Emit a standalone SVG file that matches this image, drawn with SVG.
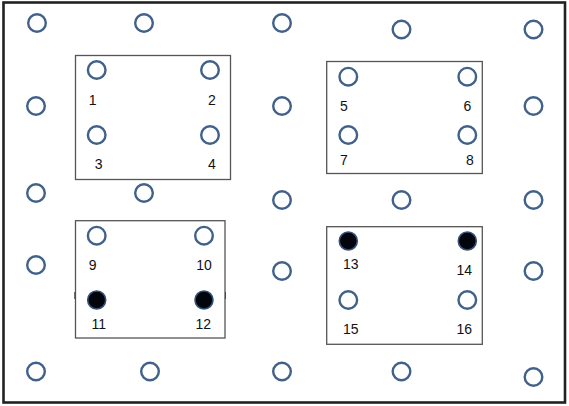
<svg xmlns="http://www.w3.org/2000/svg" width="569" height="406" viewBox="0 0 569 406">
<style>
.c{fill:none;stroke:#41618a;stroke-width:2.4}
.f{fill:#02050c;stroke:#34507a;stroke-width:1.6}
.b{fill:#fff;stroke:#555;stroke-width:1.3}
text{font-family:"Liberation Sans",Arial,sans-serif;font-size:14px;fill:#111;text-anchor:middle}
</style>
<rect x="0" y="0" width="569" height="406" fill="#fff"/>
<rect x="3.5" y="2.5" width="561.5" height="400" fill="none" stroke="#222" stroke-width="2.6"/>
<g id="grid">
<circle class="c" cx="37" cy="23" r="8.8"/>
<circle class="c" cx="144" cy="23" r="8.8"/>
<circle class="c" cx="282" cy="23" r="8.8"/>
<circle class="c" cx="401.5" cy="29.5" r="8.8"/>
<circle class="c" cx="533.5" cy="29.5" r="8.8"/>
<circle class="c" cx="36" cy="106" r="8.8"/>
<circle class="c" cx="282" cy="106" r="8.8"/>
<circle class="c" cx="533.5" cy="106" r="8.8"/>
<circle class="c" cx="36" cy="193" r="8.8"/>
<circle class="c" cx="144" cy="193" r="8.8"/>
<circle class="c" cx="282" cy="200" r="8.8"/>
<circle class="c" cx="401.5" cy="200" r="8.8"/>
<circle class="c" cx="533.5" cy="200" r="8.8"/>
<circle class="c" cx="36" cy="265" r="8.8"/>
<circle class="c" cx="282" cy="271" r="8.8"/>
<circle class="c" cx="533.5" cy="271" r="8.8"/>
<circle class="c" cx="36" cy="371.5" r="8.8"/>
<circle class="c" cx="150" cy="371.5" r="8.8"/>
<circle class="c" cx="282" cy="371.5" r="8.8"/>
<circle class="c" cx="401.5" cy="371.5" r="8.8"/>
<circle class="c" cx="533.5" cy="377" r="8.8"/>
</g>
<g id="box1">
<rect class="b" x="75.5" y="55.5" width="155" height="124"/>
<circle class="c" cx="96.7" cy="70" r="8.8"/>
<circle class="c" cx="210" cy="70" r="8.8"/>
<circle class="c" cx="96.7" cy="135" r="8.8"/>
<circle class="c" cx="210" cy="135" r="8.8"/>
<text x="92.7" y="105">1</text>
<text x="212" y="105">2</text>
<text x="98.7" y="169">3</text>
<text x="212" y="169">4</text>
</g>
<g id="box2">
<rect class="b" x="326.7" y="61.5" width="155.6" height="112"/>
<circle class="c" cx="348.3" cy="76.7" r="8.8"/>
<circle class="c" cx="467.3" cy="76.7" r="8.8"/>
<circle class="c" cx="348.3" cy="135" r="8.8"/>
<circle class="c" cx="467.3" cy="135" r="8.8"/>
<text x="344" y="111">5</text>
<text x="467.3" y="110.5">6</text>
<text x="344" y="164.5">7</text>
<text x="470" y="164.5">8</text>
</g>
<g id="box3">
<line x1="75.3" y1="292" x2="75.3" y2="299" stroke="#333" stroke-width="2"/>
<line x1="225" y1="292" x2="225" y2="299" stroke="#333" stroke-width="2"/>
<rect class="b" x="75.5" y="220.7" width="149.5" height="117.3"/>
<circle class="c" cx="96.7" cy="235.7" r="8.8"/>
<circle class="c" cx="204" cy="235.7" r="8.8"/>
<circle class="f" cx="96.7" cy="300" r="9"/>
<circle class="f" cx="204" cy="300" r="9"/>
<text x="92.7" y="270">9</text>
<text x="204" y="270">10</text>
<text x="98.7" y="329">11</text>
<text x="203.3" y="329">12</text>
</g>
<g id="box4">
<rect class="b" x="326.7" y="226.7" width="155.6" height="117.6"/>
<circle class="f" cx="348.3" cy="241" r="9"/>
<circle class="f" cx="467.3" cy="241" r="9"/>
<circle class="c" cx="348.3" cy="300" r="8.8"/>
<circle class="c" cx="467.3" cy="300" r="8.8"/>
<text x="350.7" y="269">13</text>
<text x="464.3" y="275">14</text>
<text x="350.7" y="334.3">15</text>
<text x="464.3" y="334">16</text>
</g>
<g id="connectors"></g>
</svg>
